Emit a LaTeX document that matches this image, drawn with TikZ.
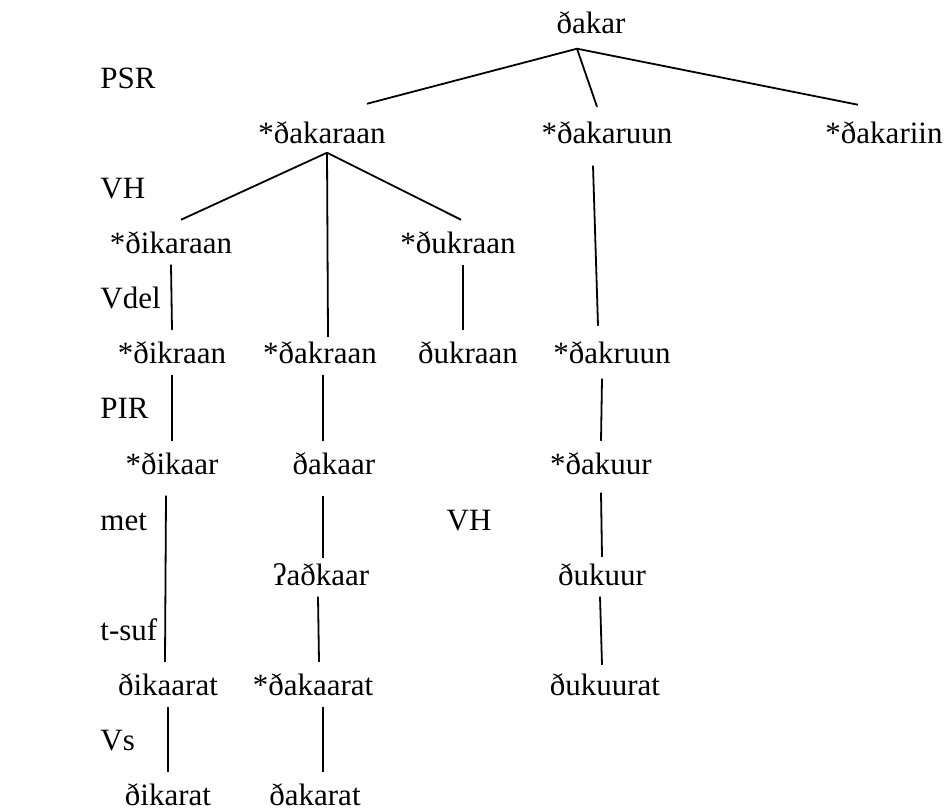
\documentclass[tikz,border=0pt]{standalone}
\usepackage{fontspec}
\setmainfont{Liberation Serif}
\usepackage{tikz}
\usetikzlibrary{positioning}

\begin{document}
\begin{tikzpicture}[
        x=0.5pt,y=-0.5pt,
        every node/.style={font=\fontsize{15.5}{18}\selectfont},
        form/.style={anchor=base,inner xsep=0pt,inner ysep=5.5pt},
        rule/.style={anchor=base west,inner sep=0pt},
        edge/.style={draw=black,line width=0.9pt}
      ]
        \useasboundingbox (0,0) rectangle (946,810);
        % rule labels
        \node[rule] (psr)  at (100,88)  {PSR};
        \node[rule] (vh)   at (100,198) {VH};
        \node[rule] (vdel) at (100,308) {Vdel};
        \node[rule] (pir)  at (100,418) {PIR};
        \node[rule] (met)  at (100,530) {met};
        \node[rule] (tsuf) at (100,640) {t-suf};
        \node[rule] (vs)   at (100,750) {Vs};
        \node[anchor=base,inner sep=0pt] (vhmid) at (469,530) {VH};
        % forms
        \node[form] (root) at (591,33)  {ðakar};
        \node[form] (kaA)  at (322,143) {*ðakaraan};
        \node[form] (kaB)  at (607,143) {*ðakaruun};
        \node[form] (kaC)  at (884,143) {*ðakariin};
        \node[form] (kbA)  at (171,253) {*ðikaraan};
        \node[form] (kbB)  at (458,253) {*ðukraan};
        \node[form] (kcA)  at (172,363) {*ðikraan};
        \node[form] (kcB)  at (320,363) {*ðakraan};
        \node[form] (kcC)  at (468,363) {ðukraan};
        \node[form] (kcD)  at (612,363) {*ðakruun};
        \node[form] (kdA)  at (172,474) {*ðikaar};
        \node[form] (kdB)  at (334,474) {ðakaar};
        \node[form] (kdC)  at (601,474) {*ðakuur};
        \node[form] (keB)  at (321,585) {ʔaðkaar};
        \node[form] (keC)  at (602,585) {ðukuur};
        \node[form] (kfA)  at (168,695) {ðikaarat};
        \node[form] (kfB)  at (313,695) {*ðakaarat};
        \node[form] (kfC)  at (605,695) {ðukuurat};
        \node[form] (kgA)  at (168,805) {ðikarat};
        \node[form] (kgB)  at (315,805) {ðakarat};
        % branches
        \draw[edge] ([shift={(-14,4)}]root.south) -- ([shift={(45,-6)}]kaA.north);
        \draw[edge] ([shift={(-14,4)}]root.south) -- ([shift={(-10,-3)}]kaB.north);
        \draw[edge] ([shift={(-14,4)}]root.south) -- ([shift={(-26,-5)}]kaC.north);
        \draw[edge] ([shift={(5,-2)}]kaA.south) -- ([shift={(10,0)}]kbA.north);
        \draw[edge] ([shift={(5,-2)}]kaA.south) -- ([shift={(8,7)}]kcB.north);
        \draw[edge] ([shift={(5,-2)}]kaA.south) -- ([shift={(3,0)}]kbB.north);
        \draw[edge] ([shift={(-14,11)}]kaB.south) -- ([shift={(-14,-4)}]kcD.north);
        \draw[edge] (kbA.south) -- (kcA.north);
        \draw[edge] (kcA.south) -- (kdA.north);
        \draw[edge] ([shift={(5,0)}]kbB.south) -- ([shift={(-5,0)}]kcC.north);
        \draw[edge] ([shift={(3,0)}]kcB.south) -- ([shift={(-11,0)}]kdB.north);
        \draw[edge] ([shift={(-10,4)}]kcD.south) -- (kdC.north);
        \draw[edge] ([shift={(-6,10)}]kdA.south) -- ([shift={(-3,0)}]kfA.north);
        \draw[edge] ([shift={(-11,10)}]kdB.south) -- ([shift={(2,6)}]keB.north);
        \draw[edge] ([shift={(-3,0)}]keB.south) -- ([shift={(6,0)}]kfB.north);
        \draw[edge] ([shift={(0,7)}]kdC.south) -- ([shift={(0,5)}]keC.north);
        \draw[edge] ([shift={(-2,0)}]keC.south) -- ([shift={(-3,3)}]kfC.north);
        \draw[edge] (kfA.south) -- (kgA.north);
        \draw[edge] ([shift={(10,0)}]kfB.south) -- ([shift={(8,0)}]kgB.north);
      \end{tikzpicture}
\end{document}
